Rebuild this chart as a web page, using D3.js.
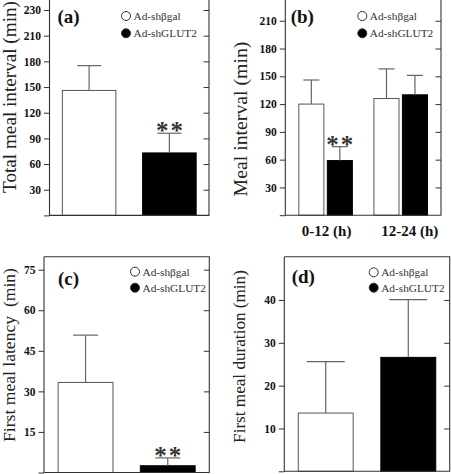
<!DOCTYPE html>
<html><head><meta charset="utf-8">
<script src="https://cdn.jsdelivr.net/npm/d3@7"></script>
<style>
body{margin:0;background:#fff}
svg{display:block}
text{font-family:"Liberation Serif","Times New Roman",serif}
</style>
</head><body>
<svg id="chart" width="451" height="474"></svg>
<script>
// ---------- data ----------
const seriesNames = ["Ad-shβgal", "Ad-shGLUT2"];

// (a) total meal interval
const totalMealInterval = [146, 73];
const totalMealIntervalSem = [29, 23];
const totalMealIntervalSig = ["", "**"];
const ticksA = [0, 30, 60, 90, 120, 150, 180, 210, 240];
const tickLabelsA = ["", "30", "60", "90", "120", "150", "180", "210", "230"];

// (b) meal interval by period
const periods = ["0-12 (h)", "12-24 (h)"];
const mealIntervalBgal = [120, 126];
const mealIntervalBgalSem = [26, 32];
const mealIntervalGlut2 = [59, 130];
const mealIntervalGlut2Sem = [15, 21];
const mealIntervalGlut2Sig = ["**", ""];
const ticksB = [0, 30, 60, 90, 120, 150, 180, 210];
const tickLabelsB = ["", "30", "60", "90", "120", "150", "180", "210"];

// (c) first meal latency
const firstMealLatency = [33.3, 2.5];
const firstMealLatencySem = [17.5, 2.9];
const firstMealLatencySig = ["", "**"];
const ticksC = [0, 15, 30, 45, 60, 75];
const tickLabelsC = ["", "15", "30", "45", "60", "75"];

// (d) first meal duration
const firstMealDuration = [13.6, 26.6];
const firstMealDurationSem = [12, 13.5];
const firstMealDurationSig = ["", ""];
const ticksD = [0, 10, 20, 30, 40];
const tickLabelsD = ["", "10", "20", "30", "40"];

// ---------- drawing ----------
const svg = d3.select("#chart");
const fills = ["#ffffff", "#000000"];
const strokes = ["#555", "#000"];
const FRAME = "#333";
const ERR = "#666";

function frame(g, box, y, ticks, labels, openTop) {
  const top = openTop ? box.top - 3 : box.top;
  g.append("path")
    .attr("d", `M${box.left},${top}V${box.bottom}H${box.right}V${top}` + (openTop ? "" : `H${box.left}`))
    .attr("fill", "none").attr("stroke", FRAME).attr("stroke-width", 1.1);
  const la = g.append("g").attr("transform", `translate(${box.left},0)`)
    .call(d3.axisLeft(y).tickValues(ticks).tickFormat((d, i) => labels[i]).tickSize(5.5).tickPadding(3));
  la.select(".domain").remove();
  la.selectAll("line").attr("stroke", FRAME);
  la.selectAll("text").attr("font-size", 11.5).attr("font-weight", "bold").attr("fill", "#111")
    .style("font-family", '"Liberation Serif",serif');
  const ra = g.append("g").attr("transform", `translate(${box.right},0)`)
    .call(d3.axisRight(y).tickValues(ticks.filter(d => d > 0)).tickFormat("").tickSize(-5.5));
  ra.select(".domain").remove();
  ra.selectAll("line").attr("stroke", FRAME);
}

function bar(g, x0, w, y, val, sem, si, capW, sig) {
  const y0 = y(0);
  g.append("rect").attr("x", x0).attr("y", y(val)).attr("width", w).attr("height", y0 - y(val))
    .attr("fill", fills[si]).attr("stroke", strokes[si]).attr("stroke-width", 1);
  const cx = x0 + w / 2;
  const yt = y(val + sem);
  g.append("line").attr("x1", cx).attr("x2", cx).attr("y1", y(val)).attr("y2", yt)
    .attr("stroke", ERR).attr("stroke-width", 1.2);
  g.append("line").attr("x1", cx - capW / 2).attr("x2", cx + capW / 2).attr("y1", yt).attr("y2", yt)
    .attr("stroke", ERR).attr("stroke-width", 1.2);
  if (sig) {
    g.append("text").attr("x", cx + 1).attr("y", yt - 6 + 12).attr("text-anchor", "middle")
      .attr("font-size", 25).attr("font-weight", "bold").attr("letter-spacing", 2)
      .attr("fill", "#333").text(sig);
  }
}

function legend(g, x, y1, y2) {
  [y1, y2].forEach((yy, i) => {
    g.append("circle").attr("cx", x).attr("cy", yy).attr("r", 4.5)
      .attr("fill", fills[i]).attr("stroke", "#333").attr("stroke-width", 1);
    g.append("text").attr("x", x + 7.5).attr("y", yy).attr("dominant-baseline", "central")
      .attr("font-size", 11.3).attr("fill", "#333").text(seriesNames[i]);
  });
}

function letter(g, x, y, t) {
  g.append("text").attr("x", x).attr("y", y).attr("dominant-baseline", "central")
    .attr("font-size", 19).attr("font-weight", "bold").attr("fill", "#111").text(t);
}

function ylabel(g, cx, cy, t, target) {
  const tx = g.append("text").attr("transform", `translate(${cx},${cy}) rotate(-90)`)
    .attr("text-anchor", "middle").attr("dominant-baseline", "central")
    .attr("font-size", 18).attr("fill", "#222").style("white-space", "pre").text(t);
  const len = tx.node().getComputedTextLength();
  if (len > 0) tx.attr("font-size", 18 * target / len);
}

// Panel (a)
{
  const box = {left: 49.5, right: 209, top: 0, bottom: 215.4};
  const g = svg.append("g");
  const y = d3.scaleLinear().domain([0, 251.7]).range([box.bottom, box.top]);
  const x = d3.scaleBand().domain(seriesNames).range([box.left, box.right]).paddingInner(0.333).paddingOuter(0.16);
  seriesNames.forEach((s, i) => bar(g, x(s), x.bandwidth(), y, totalMealInterval[i], totalMealIntervalSem[i], i, 24, totalMealIntervalSig[i]));
  frame(g, box, y, ticksA, tickLabelsA, true);
  legend(g, 126, 16, 33.3);
  letter(g, 57.5, 16.7, "(a)");
  ylabel(g, 9, 97, "Total meal interval (min)", 192);
}

// Panel (b)
{
  const box = {left: 285.3, right: 441, top: 0, bottom: 215.2};
  const g = svg.append("g");
  const y = d3.scaleLinear().domain([0, 232.4]).range([box.bottom, box.top]);
  const x = d3.scaleBand().domain(periods).range([box.left, box.right]).paddingInner(0.287).paddingOuter(0.18);
  const xs = d3.scaleBand().domain(seriesNames).range([0, x.bandwidth()]).paddingInner(0.12);
  const vals = [mealIntervalBgal, mealIntervalGlut2];
  const sems = [mealIntervalBgalSem, mealIntervalGlut2Sem];
  const sigs = [["", ""], mealIntervalGlut2Sig];
  periods.forEach((p, j) => {
    seriesNames.forEach((s, i) => bar(g, x(p) + xs(s), xs.bandwidth(), y, vals[i][j], sems[i][j], i, 16, sigs[i][j]));
  });
  frame(g, box, y, ticksB, tickLabelsB, true);
  const labelShift = [1, 9];
  periods.forEach((p, j) => {
    g.append("text").attr("x", x(p) + x.bandwidth() / 2 + labelShift[j]).attr("y", 236)
      .attr("text-anchor", "middle").attr("font-size", 15).attr("font-weight", "bold").attr("fill", "#111").text(p);
  });
  legend(g, 362.3, 16, 33.3);
  letter(g, 290.7, 16.7, "(b)");
  ylabel(g, 240, 119, "Meal interval (min)", 155);
}

// Panel (c)
{
  const box = {left: 44, right: 209.3, top: 256.7, bottom: 472.5};
  const g = svg.append("g");
  const y = d3.scaleLinear().domain([0, 79.8]).range([box.bottom, box.top]);
  const x = d3.scaleBand().domain(seriesNames).range([box.left, box.right]).paddingInner(0.333).paddingOuter(0.172);
  seriesNames.forEach((s, i) => bar(g, x(s), x.bandwidth(), y, firstMealLatency[i], firstMealLatencySem[i], i, 25, firstMealLatencySig[i]));
  frame(g, box, y, ticksC, tickLabelsC, false);
  legend(g, 135, 271.7, 287.7);
  letter(g, 58, 278.3, "(c)");
  ylabel(g, 9, 355, "First meal latency  (min)", 174);
}

// Panel (d)
{
  const box = {left: 284.3, right: 449.7, top: 256.7, bottom: 471.3};
  const g = svg.append("g");
  const y = d3.scaleLinear().domain([0, 50.1]).range([box.bottom, box.top]);
  const x = d3.scaleBand().domain(seriesNames).range([box.left, box.right]).paddingInner(0.335).paddingOuter(0.169);
  seriesNames.forEach((s, i) => bar(g, x(s), x.bandwidth(), y, firstMealDuration[i], firstMealDurationSem[i], i, 38, firstMealDurationSig[i]));
  frame(g, box, y, ticksD, tickLabelsD, false);
  legend(g, 373.7, 272.3, 287.7);
  letter(g, 291.7, 276.7, "(d)");
  ylabel(g, 239, 356.5, "First meal duration (min)", 173);
}
</script>
</body></html>
